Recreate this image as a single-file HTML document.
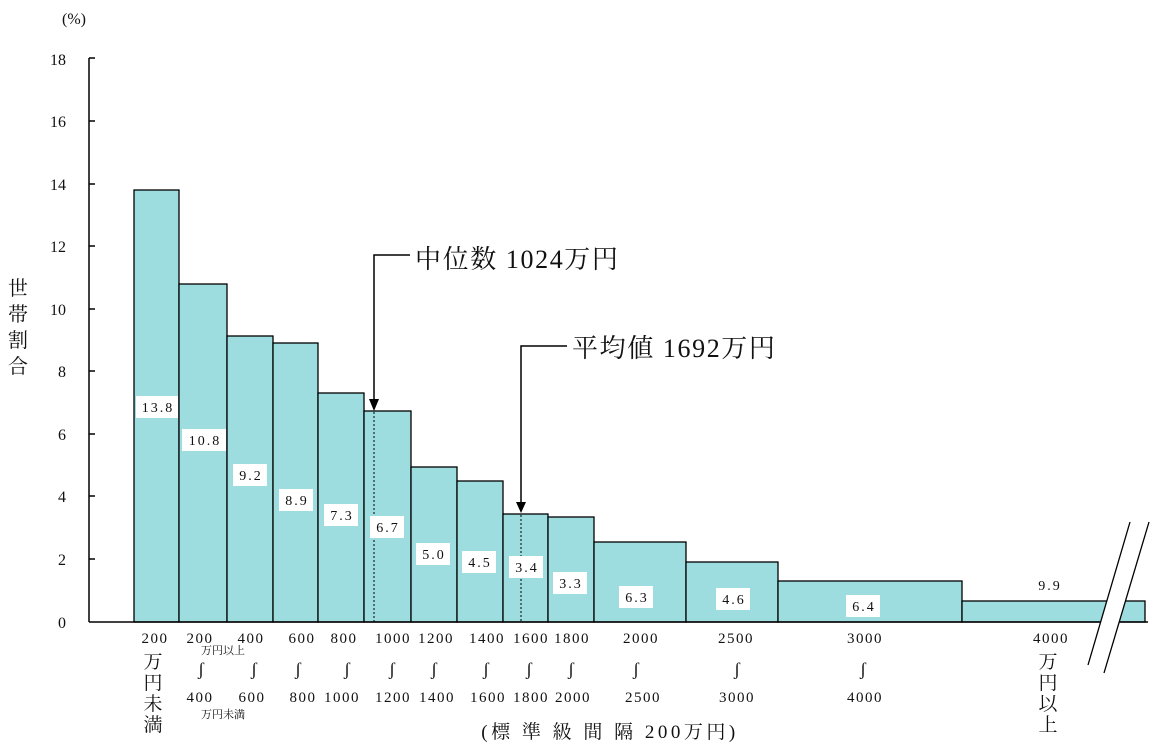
<!DOCTYPE html>
<html><head><meta charset="utf-8"><style>
body{margin:0;background:#fff;}
svg text{font-family:"Liberation Serif","Noto Serif CJK JP",serif;fill:#111;}
</style></head><body>
<svg width="1161" height="750" viewBox="0 0 1161 750" xmlns="http://www.w3.org/2000/svg">
<rect width="1161" height="750" fill="#fff"/>
<text x="74" y="24" font-size="16" text-anchor="middle">(%)</text>
<g font-size="16" text-anchor="end">
<text x="66" y="65">18</text><text x="66" y="127">16</text><text x="66" y="190">14</text><text x="66" y="252">12</text><text x="66" y="315">10</text><text x="66" y="377">8</text><text x="66" y="440">6</text><text x="66" y="502">4</text><text x="66" y="565">2</text><text x="66" y="628">0</text>
</g>
<g stroke="#000" stroke-width="1.5">
<line x1="89" y1="58" x2="89" y2="622"/>
<line x1="89" y1="58" x2="95" y2="58"/><line x1="89" y1="121" x2="95" y2="121"/><line x1="89" y1="184" x2="95" y2="184"/><line x1="89" y1="246" x2="95" y2="246"/><line x1="89" y1="309" x2="95" y2="309"/><line x1="89" y1="371" x2="95" y2="371"/><line x1="89" y1="434" x2="95" y2="434"/><line x1="89" y1="496" x2="95" y2="496"/><line x1="89" y1="559" x2="95" y2="559"/>
</g>
<g font-size="20" text-anchor="middle">
<text x="18" y="295">世</text><text x="18" y="321">帯</text><text x="18" y="347">割</text><text x="18" y="373">合</text>
</g>
<g fill="#9ddcdf" stroke="#000" stroke-width="1.3">
<rect x="134" y="190" width="45" height="432"/>
<rect x="179" y="284" width="48" height="338"/>
<rect x="227" y="336" width="46" height="286"/>
<rect x="273" y="343" width="45" height="279"/>
<rect x="318" y="393" width="46" height="229"/>
<rect x="364" y="411" width="47" height="211"/>
<rect x="411" y="467" width="46" height="155"/>
<rect x="457" y="481" width="46" height="141"/>
<rect x="503" y="514" width="45" height="108"/>
<rect x="548" y="517" width="46" height="105"/>
<rect x="594" y="542" width="92" height="80"/>
<rect x="686" y="562" width="92" height="60"/>
<rect x="778" y="581" width="184" height="41"/>
<rect x="962" y="601" width="183" height="21"/>
</g>
<line x1="89" y1="622" x2="1148" y2="622" stroke="#000" stroke-width="1.5"/>
<polygon points="1130,522 1149,522 1104,673 1088,665" fill="#fff"/>
<g stroke="#000" stroke-width="1.3">
<line x1="1130" y1="522" x2="1088" y2="665"/>
<line x1="1149" y1="522" x2="1104" y2="673"/>
</g>
<g stroke="#000" stroke-width="1" stroke-dasharray="2,2">
<line x1="374" y1="412" x2="374" y2="622"/>
<line x1="521" y1="515" x2="521" y2="622"/>
</g>
<g stroke="#000" stroke-width="1.5" fill="none">
<polyline points="410,255 374,255 374,400"/>
<polyline points="567,346 521,346 521,503"/>
</g>
<polygon points="369,399 379,399 374,411" fill="#000"/>
<polygon points="516,502 526,502 521,513" fill="#000"/>
<text x="415" y="268" font-size="26" letter-spacing="1.6">中位数 1024万円</text>
<text x="572" y="357" font-size="26" letter-spacing="1.6">平均値 1692万円</text>
<g font-size="14" text-anchor="middle" letter-spacing="2">
<g fill="#fff">
<rect x="136" y="396" width="42" height="22"/><rect x="182" y="429" width="44" height="22"/><rect x="233" y="464" width="34" height="22"/><rect x="279" y="489" width="34" height="22"/><rect x="324" y="504" width="34" height="22"/><rect x="370" y="516" width="34" height="22"/><rect x="416" y="543" width="34" height="22"/><rect x="462" y="551" width="34" height="22"/><rect x="509" y="556" width="34" height="22"/><rect x="553" y="572" width="34" height="22"/><rect x="619" y="586" width="34" height="22"/><rect x="716" y="588" width="34" height="22"/><rect x="846" y="595" width="34" height="22"/>
</g>
<text x="158" y="412">13.8</text><text x="205" y="445">10.8</text><text x="251" y="480">9.2</text><text x="297" y="505">8.9</text><text x="342" y="520">7.3</text><text x="388" y="532">6.7</text><text x="434" y="559">5.0</text><text x="480" y="567">4.5</text><text x="527" y="572">3.4</text><text x="571" y="588">3.3</text><text x="637" y="602">6.3</text><text x="734" y="604">4.6</text><text x="864" y="611">6.4</text><text x="1050" y="590">9.9</text>
</g>
<g font-size="15" text-anchor="middle" letter-spacing="1.5">
<text x="155" y="643">200</text><text x="200" y="643">200</text><text x="251" y="643">400</text><text x="302" y="643">600</text><text x="344" y="643">800</text><text x="393" y="643">1000</text><text x="436" y="643">1200</text><text x="487" y="643">1400</text><text x="531" y="643">1600</text><text x="572" y="643">1800</text><text x="641" y="643">2000</text><text x="736" y="643">2500</text><text x="865" y="643">3000</text><text x="1051" y="643">4000</text>
<text x="200" y="702">400</text><text x="252" y="702">600</text><text x="303" y="702">800</text><text x="342" y="702">1000</text><text x="393" y="702">1200</text><text x="437" y="702">1400</text><text x="488" y="702">1600</text><text x="531" y="702">1800</text><text x="573" y="702">2000</text><text x="643" y="702">2500</text><text x="737" y="702">3000</text><text x="865" y="702">4000</text>
</g>
<g font-size="18" text-anchor="middle">
<text x="201" y="675">ʃ</text><text x="254" y="675">ʃ</text><text x="298" y="675">ʃ</text><text x="347" y="675">ʃ</text><text x="392" y="675">ʃ</text><text x="434" y="675">ʃ</text><text x="486" y="675">ʃ</text><text x="529" y="675">ʃ</text><text x="571" y="675">ʃ</text><text x="636" y="675">ʃ</text><text x="737" y="675">ʃ</text><text x="863" y="675">ʃ</text>
</g>
<g font-size="11" text-anchor="middle">
<text x="223" y="654">万円以上</text><text x="223" y="718">万円未満</text>
</g>
<g font-size="19" text-anchor="middle">
<text x="153" y="668">万</text><text x="153" y="689">円</text><text x="153" y="710">未</text><text x="153" y="731">満</text>
<text x="1048" y="668">万</text><text x="1048" y="689">円</text><text x="1048" y="710">以</text><text x="1048" y="731">上</text>
</g>
<text x="610" y="738" font-size="19" text-anchor="middle" letter-spacing="3.5">(標 準 級 間 隔 200万円)</text>
</svg>
</body></html>
